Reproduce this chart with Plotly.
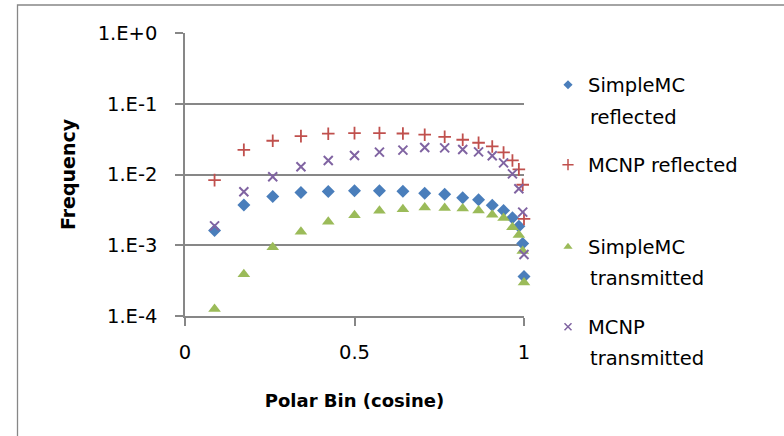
import plotly.graph_objects as go

# ---- data ----
polar_bin = [0.0872, 0.1736, 0.2588, 0.3420, 0.4226, 0.5000, 0.5736, 0.6428, 0.7071,
             0.7660, 0.8192, 0.8660, 0.9063, 0.9397, 0.9659, 0.9848, 0.9962, 1.0]
simplemc_reflected = [1.61e-3, 3.72e-3, 4.89e-3, 5.57e-3, 5.75e-3, 5.87e-3, 5.87e-3, 5.80e-3, 5.45e-3,
                      5.27e-3, 4.68e-3, 4.39e-3, 3.69e-3, 3.10e-3, 2.44e-3, 1.86e-3, 1.06e-3, 3.61e-4]
mcnp_reflected = [8.34e-3, 2.23e-2, 3.00e-2, 3.49e-2, 3.77e-2, 3.85e-2, 3.85e-2, 3.80e-2, 3.65e-2,
                  3.41e-2, 3.10e-2, 2.81e-2, 2.49e-2, 2.05e-2, 1.58e-2, 1.18e-2, 7.16e-3, 2.36e-3]
simplemc_transmitted = [1.26e-4, 3.90e-4, 9.40e-4, 1.55e-3, 2.14e-3, 2.66e-3, 3.07e-3, 3.24e-3, 3.42e-3,
                        3.36e-3, 3.30e-3, 3.10e-3, 2.69e-3, 2.42e-3, 1.80e-3, 1.40e-3, 8.30e-4, 2.97e-4]
mcnp_transmitted = [1.88e-3, 5.69e-3, 9.27e-3, 1.29e-2, 1.58e-2, 1.86e-2, 2.07e-2, 2.21e-2, 2.41e-2,
                    2.38e-2, 2.26e-2, 2.09e-2, 1.84e-2, 1.46e-2, 1.02e-2, 6.28e-3, 2.94e-3, 7.40e-4]

y_tickvals = [1e0, 1e-1, 1e-2, 1e-3, 1e-4]
y_ticktext = ["1.E+0", "1.E-1", "1.E-2", "1.E-3", "1.E-4"]
x_tickvals = [0, 0.5, 1]
x_ticktext = ["0", "0.5", "1"]

series_first_line = ["SimpleMC", "MCNP reflected", "SimpleMC", "MCNP"]
series_second_line = ["reflected", "", "transmitted", "transmitted"]

# ---- styling ----
FONT = "DejaVu Sans"
GRAY = "#878787"
W, H = 784, 436
L, R, T, B = 185, 524, 33, 316

def px_x(p):
    return (p - L) / (R - L)

def px_y(p):
    return (B - p) / (B - T)

series = [
    (simplemc_reflected, "#4A7EBB", "diamond", 10, 7, 0),
    (mcnp_reflected, "#C0504D", "cross-thin", 9, 8, 1.8),
    (simplemc_transmitted, "#9BBB59", "triangle-up", 11, 8, 0),
    (mcnp_transmitted, "#8064A2", "x-thin", 9, 7, 2),
]

fig = go.Figure()
for ys, color, sym, size, lsize, lw in series:
    fig.add_trace(go.Scatter(
        x=polar_bin, y=ys, mode="markers", showlegend=False, cliponaxis=False,
        marker=dict(symbol=sym, size=size, color=color,
                    line=dict(color=color, width=lw)),
    ))

legend_names = ["legend", "legend2", "legend3", "legend4"]
first_line_y = [85, 165, 247, 327]
second_line_y = [117, None, 278, 358]
text_x = 589
layout_legends = {}
for i, (ys, color, sym, size, lsize, lw) in enumerate(series):
    fig.add_trace(go.Scatter(
        x=[None], y=[None], mode="markers", name=series_first_line[i],
        legend=legend_names[i], showlegend=True,
        marker=dict(symbol=sym, size=lsize, color=color,
                    line=dict(color=color, width=1.5 if lw else 0)),
    ))
    layout_legends[legend_names[i]] = dict(
        x=px_x(text_x - 41), xanchor="left",
        y=px_y(first_line_y[i]), yanchor="middle",
        bgcolor="rgba(0,0,0,0)", borderwidth=0,
        font=dict(family=FONT, size=19.5, color="black"),
    )
    if series_second_line[i]:
        fig.add_annotation(
            x=px_x(text_x - 1), y=px_y(second_line_y[i]), xref="paper", yref="paper",
            xanchor="left", yanchor="middle", showarrow=False,
            text=series_second_line[i],
            font=dict(family=FONT, size=19.5, color="black"),
        )

# outer chart border
fig.add_shape(type="rect", xref="paper", yref="paper",
              x0=px_x(17.5), x1=px_x(800), y0=px_y(5), y1=px_y(450),
              line=dict(color=GRAY, width=1.3), layer="below")

fig.update_layout(
    width=W, height=H,
    margin=dict(l=L, r=W - R, t=T, b=H - B, autoexpand=False),
    paper_bgcolor="white", plot_bgcolor="white",
    font=dict(family=FONT, color="black"),
    **layout_legends,
)

fig.update_xaxes(
    range=[0, 1], tickvals=x_tickvals, ticktext=x_ticktext,
    showgrid=False, zeroline=False, showline=True, linecolor=GRAY, linewidth=1.5,
    ticks="outside", ticklen=8, tickcolor=GRAY, tickwidth=1.5,
    tickfont=dict(family=FONT, size=19.5, color="black"), ticklabelstandoff=10,
    title=dict(text="<b>Polar Bin (cosine)</b>", font=dict(family=FONT, size=18, color="black"), standoff=31),
    automargin=False,
)
fig.update_yaxes(
    type="log", range=[-4, 0], tickvals=y_tickvals, ticktext=y_ticktext,
    showgrid=True, gridcolor=GRAY, gridwidth=1.5,
    zeroline=False, showline=True, linecolor=GRAY, linewidth=1.5,
    ticks="outside", ticklen=8, tickcolor=GRAY, tickwidth=1.5,
    tickfont=dict(family=FONT, size=19.5, color="black"), ticklabelstandoff=14,
    title=dict(text="<b>Frequency</b>", font=dict(family=FONT, size=19, color="black"), standoff=17),
    automargin=False,
)

fig.write_html("out.html")
